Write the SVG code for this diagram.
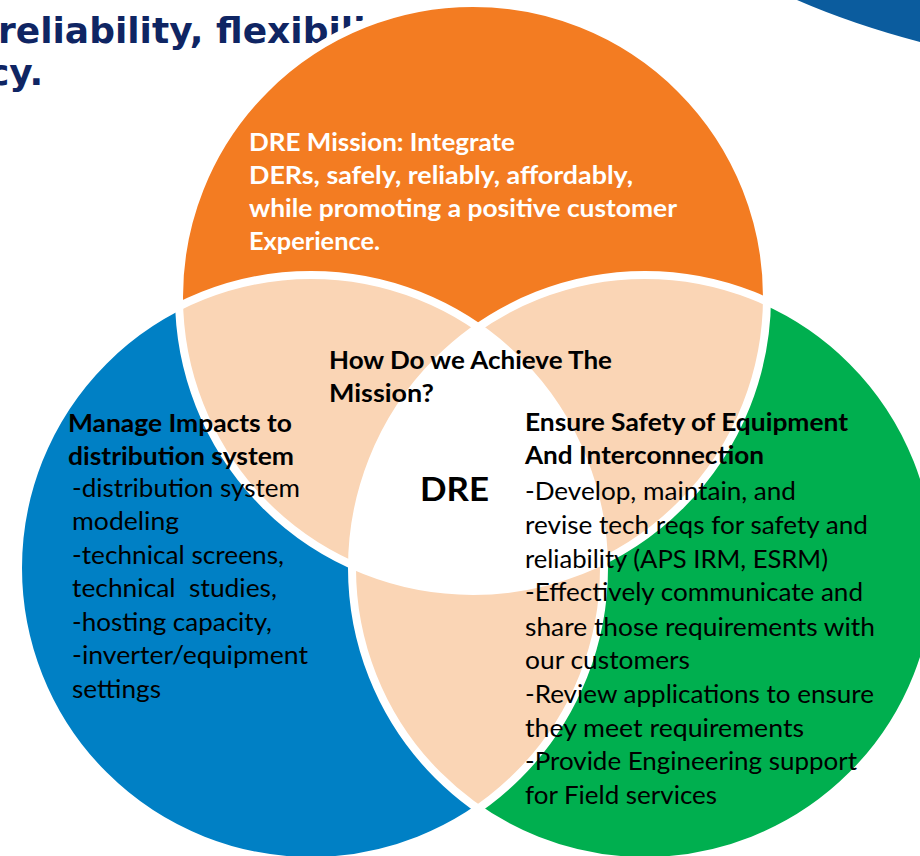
<svg xmlns="http://www.w3.org/2000/svg" width="920" height="856" viewBox="0 0 920 856">
<style>
.bg{font-family:"DejaVu Sans",Verdana,sans-serif;font-weight:bold;font-size:36px;fill:#0F2563}
.t{font-family:Lato,"Open Sans",sans-serif;font-size:24.5px;fill:#000;white-space:pre}
.b{font-weight:bold}
.w{fill:#fff}
.ring{fill:none;stroke:#fff;stroke-width:8}
.peach{fill:#FAD5B5}
</style>
<defs>
<clipPath id="cO"><circle cx="473" cy="297" r="294"/></clipPath>
<clipPath id="cB"><circle cx="311" cy="568" r="293"/></clipPath>
</defs>
<rect width="920" height="856" fill="#fff"/>
<g id="background">
<text class="bg" x="-2" y="43">reliability, flexibility,</text>
<text class="bg" x="-12" y="85">cy.</text>
<path d="M797,0 Q852,24 920,42 L920,0 Z" fill="#0B5C9E"/>
</g>
<g id="mission">
<circle cx="473" cy="297" r="294" fill="#F37C22"/>
</g>
<g id="impacts">
<circle cx="311" cy="568" r="293" fill="#0080C5"/>
</g>
<g id="safety">
<circle cx="645" cy="568" r="293" fill="#00AF4F"/>
</g>
<g id="overlaps">
<circle class="peach" cx="311" cy="568" r="293" clip-path="url(#cO)"/>
<circle class="peach" cx="645" cy="568" r="293" clip-path="url(#cO)"/>
<circle class="peach" cx="645" cy="568" r="293" clip-path="url(#cB)"/>
</g>
<g id="center">
<g clip-path="url(#cO)"><circle cx="645" cy="568" r="293" fill="#fff" clip-path="url(#cB)"/></g>
</g>
<g id="outlines">
<circle class="ring" cx="473" cy="297" r="294"/>
<circle class="ring" cx="311" cy="568" r="293"/>
<circle class="ring" cx="645" cy="568" r="293"/>
</g>
<g id="connectors"/>
<g id="mission-text">
<text class="t b w" x="249" y="151" textLength="266" lengthAdjust="spacingAndGlyphs">DRE Mission: Integrate</text>
<text class="t b w" x="249" y="184" textLength="384" lengthAdjust="spacingAndGlyphs">DERs, safely, reliably, affordably,</text>
<text class="t b w" x="249" y="217" textLength="428" lengthAdjust="spacingAndGlyphs">while promoting a positive customer</text>
<text class="t b w" x="249" y="250" textLength="131" lengthAdjust="spacingAndGlyphs">Experience.</text>
</g>
<g id="how-text">
<text class="t b" x="329" y="369" textLength="283" lengthAdjust="spacingAndGlyphs">How Do we Achieve The</text>
<text class="t b" x="329" y="402" textLength="105" lengthAdjust="spacingAndGlyphs">Mission?</text>
</g>
<g id="dre">
<text class="t b" x="420" y="501" style="font-size:33px" textLength="69" lengthAdjust="spacingAndGlyphs">DRE</text>
</g>
<g id="impacts-text">
<text class="t b" x="68" y="432" textLength="224" lengthAdjust="spacingAndGlyphs">Manage Impacts to</text>
<text class="t b" x="68" y="465" textLength="226" lengthAdjust="spacingAndGlyphs">distribution system</text>
<text class="t" x="72" y="497" textLength="228" lengthAdjust="spacingAndGlyphs">-distribution system</text>
<text class="t" x="72" y="530" textLength="107" lengthAdjust="spacingAndGlyphs">modeling</text>
<text class="t" x="72" y="564" textLength="212" lengthAdjust="spacingAndGlyphs">-technical screens,</text>
<text class="t" x="72" y="597" textLength="205" lengthAdjust="spacingAndGlyphs">technical  studies,</text>
<text class="t" x="72" y="631" textLength="200" lengthAdjust="spacingAndGlyphs">-hosting capacity,</text>
<text class="t" x="72" y="664" textLength="236" lengthAdjust="spacingAndGlyphs">-inverter/equipment</text>
<text class="t" x="72" y="698" textLength="89" lengthAdjust="spacingAndGlyphs">settings</text>
</g>
<g id="safety-text">
<text class="t b" x="525" y="431" textLength="323" lengthAdjust="spacingAndGlyphs">Ensure Safety of Equipment</text>
<text class="t b" x="525" y="464" textLength="239" lengthAdjust="spacingAndGlyphs">And Interconnection</text>
<text class="t" x="525" y="500" textLength="271" lengthAdjust="spacingAndGlyphs">-Develop, maintain, and</text>
<text class="t" x="525" y="534" textLength="343" lengthAdjust="spacingAndGlyphs">revise tech reqs for safety and</text>
<text class="t" x="525" y="567.5" textLength="303" lengthAdjust="spacingAndGlyphs">reliability (APS IRM, ESRM)</text>
<text class="t" x="525" y="601" textLength="338" lengthAdjust="spacingAndGlyphs">-Effectively communicate and</text>
<text class="t" x="525" y="635.5" textLength="350" lengthAdjust="spacingAndGlyphs">share those requirements with</text>
<text class="t" x="525" y="669" textLength="165" lengthAdjust="spacingAndGlyphs">our customers</text>
<text class="t" x="525" y="703" textLength="349" lengthAdjust="spacingAndGlyphs">-Review applications to ensure</text>
<text class="t" x="525" y="736.5" textLength="279" lengthAdjust="spacingAndGlyphs">they meet requirements</text>
<text class="t" x="525" y="770" textLength="332" lengthAdjust="spacingAndGlyphs">-Provide Engineering support</text>
<text class="t" x="525" y="803.5" textLength="192" lengthAdjust="spacingAndGlyphs">for Field services</text>
</g>
</svg>
